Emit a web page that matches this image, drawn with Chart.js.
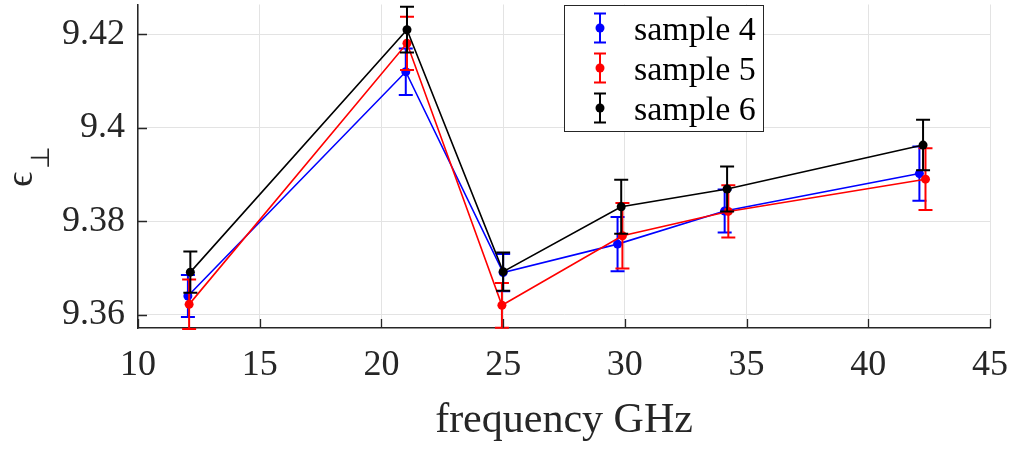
<!DOCTYPE html>
<html>
<head>
<meta charset="utf-8">
<script src="https://cdn.jsdelivr.net/npm/chart.js@4"></script>
<style>
  html, body { margin: 0; padding: 0; background: #fff; }
  #wrap { width: 1011px; height: 449px; }
</style>
</head>
<body>
<div id="wrap"><canvas id="epsChart" width="1011" height="449"></canvas></div>
<script>
// frequency (GHz) and permittivity values
const freq4 = [12.05, 21.0, 25.0, 29.7, 34.1, 42.1];
const eps4 = [9.3640, 9.4120, 9.3690, 9.3751, 9.3822, 9.3902];
const err4 = [0.0045, 0.0050, 0.0040, 0.0058, 0.0046, 0.0058];

const freq5 = [12.1, 21.05, 24.95, 29.9, 34.25, 42.35];
const eps5 = [9.3622, 9.4181, 9.3620, 9.3769, 9.3821, 9.3890];
const err5 = [0.0053, 0.0057, 0.0048, 0.0070, 0.0056, 0.0066];

const freq6 = [12.15, 21.05, 25.0, 29.85, 34.2, 42.25];
const eps6 = [9.3691, 9.4210, 9.3692, 9.3831, 9.3869, 9.3963];
const err6 = [0.0044, 0.0049, 0.0041, 0.0058, 0.0048, 0.0054];

const seriesLabels = ['sample 4', 'sample 5', 'sample 6'];
const seriesColors = ['#0000ff', '#ff0000', '#000000'];

const xTicks = [10, 15, 20, 25, 30, 35, 40, 45];
const yTicks = [9.36, 9.38, 9.40, 9.42];
const yTickLabels = ['9.36', '9.38', '9.4', '9.42'];

const xTitle = 'frequency GHz';
const FONT = "'Liberation Serif', 'Times New Roman', serif";
const TXT = '#262626';

function pts(xs, ys, es) {
    return xs.map((x, i) => ({ x: x, y: ys[i], e: es[i] }));
}

function makeSet(i, data) {
    return {
        label: seriesLabels[i],
        data: data,
        showLine: true,
        borderColor: seriesColors[i],
        backgroundColor: seriesColors[i],
        borderWidth: 1.6,
        pointRadius: 4.5,
        pointHoverRadius: 4.5,
        pointBorderWidth: 0,
        order: 3 - i
    };
}

// error bars, drawn right after each dataset so the stacking stays the same
const errorBars = {
    id: 'errorBars',
    afterDatasetDraw(chart, args) {
        const ctx = chart.ctx;
        const ds = chart.data.datasets[args.index];
        const xs = chart.scales.x, ys = chart.scales.y;
        ctx.save();
        ctx.strokeStyle = ds.borderColor;
        ctx.lineWidth = 2;
        ds.data.forEach(p => {
            const px = xs.getPixelForValue(p.x);
            const top = ys.getPixelForValue(p.y + p.e);
            const bot = ys.getPixelForValue(p.y - p.e);
            ctx.beginPath();
            ctx.moveTo(px, top); ctx.lineTo(px, bot);
            ctx.moveTo(px - 7, top); ctx.lineTo(px + 7, top);
            ctx.moveTo(px - 7, bot); ctx.lineTo(px + 7, bot);
            ctx.stroke();
        });
        ctx.restore();
    }
};

// inner tick marks, y title with subscript, legend box
const extras = {
    id: 'extras',
    afterDraw(chart) {
        const ctx = chart.ctx;
        const a = chart.chartArea;
        const xs = chart.scales.x, ys = chart.scales.y;
        ctx.save();
        ctx.strokeStyle = TXT;
        ctx.lineWidth = 1.3;
        ctx.beginPath();
        xTicks.forEach(v => {
            const px = Math.round(xs.getPixelForValue(v)) + 0.5;
            ctx.moveTo(px, a.bottom); ctx.lineTo(px, a.bottom - 9);
        });
        yTicks.forEach(v => {
            const py = Math.round(ys.getPixelForValue(v)) + 0.5;
            ctx.moveTo(a.left, py); ctx.lineTo(a.left + 9, py);
        });
        ctx.stroke();

        // y axis title: epsilon with perp subscript, rotated
        ctx.fillStyle = TXT;
        ctx.translate(32, 187);
        ctx.rotate(-Math.PI / 2);
        ctx.textAlign = 'left';
        ctx.textBaseline = 'alphabetic';
        ctx.font = '38px ' + FONT;
        ctx.fillText('\u03f5', 0, 0);
        ctx.font = '26px ' + FONT;
        ctx.fillText('\u22a5', 18, 17);
        ctx.restore();

        // legend
        ctx.save();
        const lx = 564, ly = 5, lw = 199, lh = 126;
        ctx.fillStyle = '#fff';
        ctx.fillRect(lx, ly, lw, lh);
        ctx.strokeStyle = '#262626';
        ctx.lineWidth = 1;
        ctx.strokeRect(lx + 0.5, ly + 0.5, lw, lh);
        chart.data.datasets.forEach((ds, i) => {
            const cy = 28 + i * 40;
            const cx = 600;
            ctx.strokeStyle = ds.borderColor;
            ctx.fillStyle = ds.borderColor;
            ctx.lineWidth = 2;
            ctx.beginPath();
            ctx.moveTo(cx, cy - 14.5); ctx.lineTo(cx, cy + 14.5);
            ctx.moveTo(cx - 6, cy - 14.5); ctx.lineTo(cx + 6, cy - 14.5);
            ctx.moveTo(cx - 6, cy + 14.5); ctx.lineTo(cx + 6, cy + 14.5);
            ctx.stroke();
            ctx.beginPath();
            ctx.arc(cx, cy, 4.5, 0, Math.PI * 2);
            ctx.fill();
            ctx.fillStyle = '#000';
            ctx.font = '34px ' + FONT;
            ctx.textAlign = 'left';
            ctx.textBaseline = 'alphabetic';
            ctx.fillText(ds.label, 634, cy + 11.5);
        });
        ctx.restore();
    }
};

const ctx = document.getElementById('epsChart').getContext('2d');
const epsChart = new Chart(ctx, {
    type: 'scatter',
    data: {
        datasets: [
            makeSet(0, pts(freq4, eps4, err4)),
            makeSet(1, pts(freq5, eps5, err5)),
            makeSet(2, pts(freq6, eps6, err6))
        ]
    },
    plugins: [errorBars, extras],
    options: {
        responsive: false,
        animation: false,
        layout: { padding: { top: 3, right: 21, left: 0, bottom: 0 } },
        plugins: {
            legend: { display: false },
            tooltip: { enabled: false }
        },
        scales: {
            x: {
                type: 'linear',
                min: 10,
                max: 45,
                afterBuildTicks: s => { s.ticks = xTicks.map(v => ({ value: v })); },
                afterFit: s => { s.height = 121; s.paddingLeft = 0; s.paddingRight = 0; },
                grid: { color: '#e3e3e3', lineWidth: 1, drawTicks: false },
                border: { display: true, color: TXT, width: 1.5 },
                ticks: {
                    color: TXT,
                    font: { family: FONT, size: 36 },
                    padding: 16,
                    maxRotation: 0,
                    callback: v => String(v)
                },
                title: {
                    display: true,
                    text: xTitle,
                    color: TXT,
                    font: { family: FONT, size: 42 },
                    padding: { top: 0, bottom: 3 }
                }
            },
            y: {
                type: 'linear',
                min: 9.35714,
                max: 9.4264,
                afterBuildTicks: s => { s.ticks = yTicks.map(v => ({ value: v })); },
                afterFit: s => { s.width = 138; s.paddingTop = 0; s.paddingBottom = 0; },
                grid: { color: '#e3e3e3', lineWidth: 1, drawTicks: false },
                border: { display: true, color: TXT, width: 1.5 },
                ticks: {
                    color: TXT,
                    font: { family: FONT, size: 36 },
                    padding: 13,
                    callback: (v, i) => yTickLabels[yTicks.indexOf(Math.round(v * 100) / 100)] || ''
                }
            }
        }
    }
});
</script>
</body>
</html>
